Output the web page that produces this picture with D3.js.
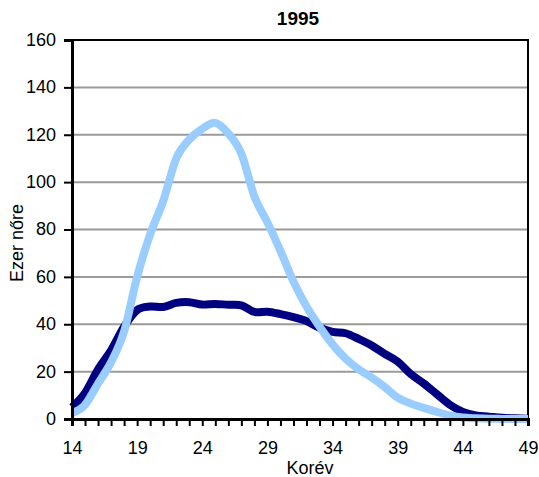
<!DOCTYPE html>
<html>
<head>
<meta charset="utf-8">
<script src="https://cdn.jsdelivr.net/npm/d3@7"></script>
<style>
  html, body { margin: 0; padding: 0; background: #fff; }
  svg { display: block; }
  text { font-family: "Liberation Sans Narrow", "Arial Narrow", "Liberation Sans", Arial, sans-serif; fill: #000; }
</style>
</head>
<body>
<script>
const ages = d3.range(14, 50);
const seriesDark = [5, 11, 21, 29, 39, 46, 47.5, 47.3, 49, 49.3, 48.3, 48.6, 48.2, 48, 45.2, 45.3, 44.3, 43, 41.3, 38.5, 36.8, 36.2, 33.8, 31, 27.5, 24.2, 19, 15, 10.5, 6, 3, 1.5, 1, 0.5, 0.3, 0.1];
const seriesLight = [2.5, 6, 15, 24, 37, 60, 78, 92, 110, 118, 122.5, 125, 120.5, 112, 94, 83, 71, 58, 47.5, 39, 31.5, 25.5, 21, 17.5, 13.5, 9, 6.5, 4.7, 3, 1.5, 0.6, 0.3, 0.1, 0.05, 0, 0];
const xTickLabels = [14, 19, 24, 29, 34, 39, 44, 49];
const yTickLabels = [0, 20, 40, 60, 80, 100, 120, 140, 160];
const title = "1995";
const yTitle = "Ezer nőre";
const xTitle = "Korév";

const W = 539, H = 477;
const m = { left: 72, right: 11, top: 40, bottom: 58 };
const svg = d3.select("body").append("svg").attr("width", W).attr("height", H);

const x = d3.scaleLinear().domain([14, 49]).range([m.left, W - m.right]);
const y = d3.scaleLinear().domain([0, 160]).range([H - m.bottom, m.top]);

// gridlines
svg.append("g").selectAll("line").data(yTickLabels.filter(v => v > 0 && v < 160)).join("line")
  .attr("x1", m.left).attr("x2", W - m.right)
  .attr("y1", d => y(d)).attr("y2", d => y(d))
  .attr("stroke", "#9a9a9a").attr("stroke-width", 2);

// top & right border
svg.append("path")
  .attr("d", `M${m.left},${y(160)}H${W - m.right}V${y(0)}`)
  .attr("fill", "none").attr("stroke", "#000").attr("stroke-width", 2);

// lines (smoothed like the original)
const lineGen = d3.line().x((d, i) => x(ages[i])).y(d => y(Math.max(0, d))).curve(d3.curveCatmullRom.alpha(0));
svg.append("path").datum(seriesDark).attr("d", lineGen)
  .attr("fill", "none").attr("stroke", "#000080").attr("stroke-width", 8)
  .attr("stroke-linejoin", "round").attr("stroke-linecap", "butt");
svg.append("path").datum(seriesLight).attr("d", lineGen)
  .attr("fill", "none").attr("stroke", "#99ccff").attr("stroke-width", 8)
  .attr("stroke-linejoin", "round").attr("stroke-linecap", "butt");

// y axis
const yAxis = svg.append("g").attr("transform", `translate(${m.left},0)`)
  .call(d3.axisLeft(y).tickValues(yTickLabels).tickSize(8).tickPadding(8).tickFormat(d3.format("d")));
yAxis.select(".domain").attr("stroke", "#000").attr("stroke-width", 3);
yAxis.selectAll(".tick line").attr("stroke", "#000").attr("stroke-width", 2);
yAxis.selectAll("text").attr("font-size", 18).attr("font-family", null).attr("dy", "0.3em");

// x axis minor ticks
const xAxisMinor = svg.append("g").attr("transform", `translate(0,${y(0)})`)
  .call(d3.axisBottom(x).tickValues(ages).tickSize(7).tickFormat(""));
xAxisMinor.select(".domain").attr("stroke", "#000").attr("stroke-width", 3);
xAxisMinor.selectAll(".tick line").attr("stroke", "#000").attr("stroke-width", 2);

const xAxis = svg.append("g").attr("transform", `translate(0,${y(0)})`)
  .call(d3.axisBottom(x).tickValues(xTickLabels).tickSize(0).tickPadding(22).tickFormat(d3.format("d")));
xAxis.select(".domain").remove();
xAxis.selectAll("text").attr("font-size", 18).attr("font-family", null);

// titles
svg.append("text").attr("x", 298).attr("y", 25).attr("text-anchor", "middle")
  .attr("font-size", 19).attr("font-weight", "bold").text(title);
svg.append("text").attr("x", 310).attr("y", 474).attr("text-anchor", "middle")
  .attr("font-size", 18).text(xTitle);
svg.append("text").attr("transform", `translate(23,${243}) rotate(-90)`).attr("text-anchor", "middle")
  .attr("font-size", 18).text(yTitle);
</script>
</body>
</html>
